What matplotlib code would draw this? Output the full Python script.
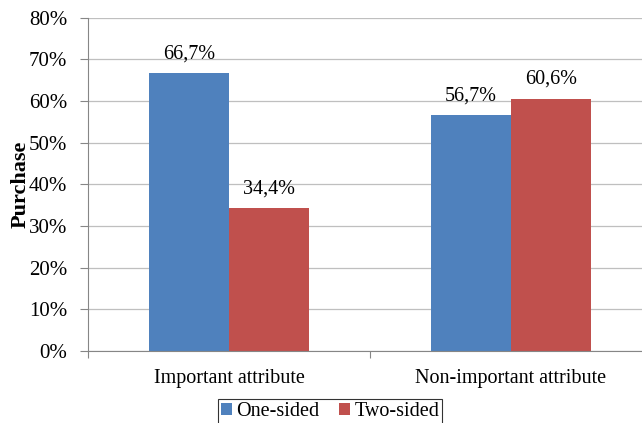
import matplotlib
matplotlib.use("Agg")
import matplotlib.pyplot as plt
from matplotlib.patches import Patch

categories = ["Important attribute", "Non-important attribute"]
series = ["One-sided", "Two-sided"]
one_sided = [66.7, 56.7]
two_sided = [34.4, 60.6]
yticks = [0, 10, 20, 30, 40, 50, 60, 70, 80]

COLORS = ["#4F81BD", "#C0504D"]
BARW = 0.284

plt.rcParams["font.family"] = ["Liberation Serif", "DejaVu Serif"]

fig = plt.figure(figsize=(6.42, 4.23), dpi=100)
ax = fig.add_axes([0.137, 0.170, 0.8785, 0.788])

x = list(range(len(categories)))
for vals, off, color in zip((one_sided, two_sided), (-BARW / 2, BARW / 2), COLORS):
    xs = [xi + off for xi in x]
    ax.bar(xs, vals, width=BARW, color=color, edgecolor="none", zorder=2)
    for xx, v in zip(xs, vals):
        ax.text(xx, v + 2.3, f"{v:.1f}%".replace(".", ","), ha="center",
                va="bottom", fontsize=14.5, color="black", zorder=3)

ax.set_xlim(-0.5, len(categories) - 0.5)
ax.set_ylim(0, 80)
ax.set_yticks(yticks)
ax.set_yticklabels([f"{t}%" for t in yticks], fontsize=15)
ax.set_xticks(x)
ax.set_xticklabels(categories, fontsize=14.5)
ax.set_xticks([i - 0.5 for i in range(len(categories) + 1)], minor=True)
ax.tick_params(axis="x", which="major", length=0, pad=13)
ax.tick_params(axis="x", which="minor", length=5, width=0.8, color="#868686",
               direction="out")
ax.tick_params(axis="y", length=6, width=0.8, color="#868686", pad=9)

ax.grid(axis="y", color="#BFBFBF", lw=0.9, zorder=0)
ax.set_axisbelow(True)
for s in ("top", "right"):
    ax.spines[s].set_visible(False)
for s in ("left", "bottom"):
    ax.spines[s].set_color("#868686")
    ax.spines[s].set_linewidth(0.8)

ax.set_ylabel("Purchase", fontsize=16, fontweight="bold")
ax.yaxis.set_label_coords(-0.101, 0.5)

handles = [Patch(facecolor=c, edgecolor="none", label=l)
           for c, l in zip(COLORS, series)]
leg = fig.legend(handles=handles, ncol=2, fontsize=14.5, loc="upper center",
                 bbox_to_anchor=(330 / 642, 0.057), frameon=True, fancybox=False,
                 handlelength=0.55, handleheight=0.55, handletextpad=0.2,
                 columnspacing=1.0, borderpad=0.15, borderaxespad=0)
leg.get_frame().set_edgecolor("black")
leg.get_frame().set_linewidth(0.8)

fig.savefig("out.png", dpi=100)
